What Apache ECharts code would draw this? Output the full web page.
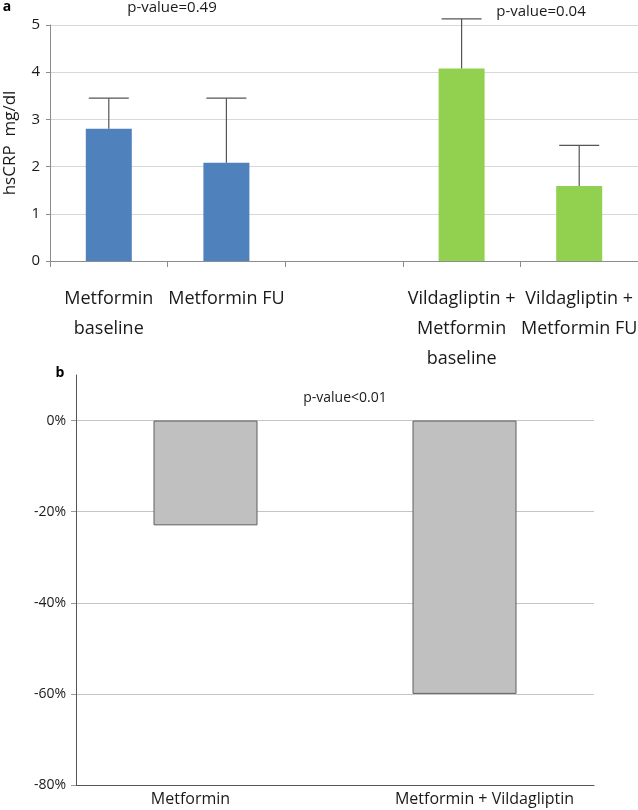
<!DOCTYPE html>
<html>
<head>
<meta charset="utf-8">
<script src="https://cdn.jsdelivr.net/npm/echarts@6/dist/echarts.min.js"></script>
<style>
html,body{margin:0;padding:0;background:#fff;}
#chart{width:638px;height:810px;}
</style>
</head>
<body>
<div id="chart"></div>
<script>
// Panel a
const catsA = ['Metformin\nbaseline', 'Metformin FU', '', 'Vildagliptin +\nMetformin\nbaseline', 'Vildagliptin +\nMetformin FU'];
const meansA = [2.8, 2.08, null, 4.08, 1.59];
const upperA = [3.45, 3.45, null, 5.13, 2.45];
const colorsA = ['#4f81bd', '#4f81bd', null, '#92d050', '#92d050'];
const ticksA = [0, 1, 2, 3, 4, 5];
// Panel b
const catsB = ['Metformin', 'Metformin + Vildagliptin'];
const valuesB = [-23, -60];
const ticksB = ['-80%', '-60%', '-40%', '-20%', '0%'];

const FONT = 'Open Sans';

const barDataA = meansA.map((v, i) => v == null ? null : {value: v, itemStyle: {color: colorsA[i]}});
const errDataA = meansA.map((v, i) => v == null ? null : [i, v, upperA[i]]).filter(d => d);

const chart = echarts.init(document.getElementById('chart'), null, {renderer: 'canvas'});
chart.setOption({
  animation: false,
  backgroundColor: '#fff',
  textStyle: {fontFamily: FONT},
  grid: [
    {left: 50, right: 0, top: 25, bottom: 549, containLabel: false, outerBoundsMode: 'none'},
    {left: 76, right: 44, top: 375, bottom: 25, containLabel: false, outerBoundsMode: 'none'}
  ],
  xAxis: [
    {
      type: 'category', gridIndex: 0, data: catsA,
      axisLine: {lineStyle: {color: '#8c8c8c', width: 1}},
      axisTick: {show: true, length: 6, lineStyle: {color: '#8c8c8c'}},
      axisLabel: {color: '#1a1a1a', fontSize: 18, fontFamily: FONT, lineHeight: 30, margin: 23, interval: 0}
    },
    {
      type: 'category', gridIndex: 1,
      data: [
        {value: catsB[0], textStyle: {padding: [0, 30, 0, 0]}},
        {value: catsB[1], textStyle: {padding: [0, 0, 0, 40]}}
      ],
      axisLine: {onZero: false, lineStyle: {color: '#555', width: 1}},
      axisTick: {show: false},
      axisLabel: {color: '#1a1a1a', fontSize: 16, fontFamily: FONT, margin: 6, interval: 0}
    }
  ],
  yAxis: [
    {
      type: 'value', gridIndex: 0, min: ticksA[0], max: ticksA[ticksA.length - 1], interval: 1,
      name: 'hsCRP  mg/dl', nameLocation: 'middle', nameGap: 31, nameRotate: 90,
      nameTextStyle: {fontSize: 17, color: '#1a1a1a', fontFamily: FONT},
      axisLine: {show: true, lineStyle: {color: '#8c8c8c'}},
      axisTick: {show: true, length: 4, lineStyle: {color: '#8c8c8c'}},
      axisLabel: {color: '#1a1a1a', fontSize: 15, margin: 10, fontFamily: FONT},
      splitLine: {show: true, lineStyle: {color: '#d8d8d8', width: 1}}
    },
    {
      type: 'value', gridIndex: 1, min: -80, max: 10, interval: 20,
      axisLine: {show: true, onZero: false, lineStyle: {color: '#555'}},
      axisTick: {show: true, length: 5, lineStyle: {color: '#999'}},
      axisLabel: {
        color: '#1a1a1a', fontSize: 14, margin: 10, fontFamily: FONT, showMaxLabel: false,
        formatter: v => v > 0 ? '' : ticksB[(v + 80) / 20]
      },
      splitLine: {show: true, showMaxLine: false, lineStyle: {color: '#c4c4c4', width: 1}}
    }
  ],
  series: [
    {
      type: 'bar', xAxisIndex: 0, yAxisIndex: 0, data: barDataA, barWidth: 46, z: 2
    },
    {
      type: 'custom', xAxisIndex: 0, yAxisIndex: 0, data: errDataA, z: 3,
      renderItem: function (params, api) {
        const x = api.value(0);
        const base = api.coord([x, api.value(1)]);
        const top = api.coord([x, api.value(2)]);
        const hw = 20;
        const style = {stroke: '#555', lineWidth: 1.2};
        return {
          type: 'group',
          children: [
            {type: 'line', shape: {x1: base[0], y1: base[1], x2: top[0], y2: top[1]}, style: style},
            {type: 'line', shape: {x1: top[0] - hw, y1: top[1], x2: top[0] + hw, y2: top[1]}, style: style}
          ]
        };
      }
    },
    {
      type: 'bar', xAxisIndex: 1, yAxisIndex: 1, data: valuesB, barWidth: 104,
      itemStyle: {color: '#c0c0c0', borderColor: '#5f5f5f', borderWidth: 1}
    }
  ],
  graphic: [
    {type: 'text', x: 7, y: 7, style: {text: 'a', font: 'bold 14px "Open Sans"', fill: '#000', align: 'center', verticalAlign: 'middle'}},
    {type: 'text', x: 172, y: 8, style: {text: 'p-value=0.49', font: '15px "Open Sans"', fill: '#1a1a1a', align: 'center', verticalAlign: 'middle'}},
    {type: 'text', x: 541, y: 12, style: {text: 'p-value=0.04', font: '15px "Open Sans"', fill: '#1a1a1a', align: 'center', verticalAlign: 'middle'}},
    {type: 'text', x: 60, y: 373, style: {text: 'b', font: 'bold 14px "Open Sans"', fill: '#000', align: 'center', verticalAlign: 'middle'}},
    {type: 'text', x: 345, y: 398, style: {text: 'p-value<0.01', font: '14px "Open Sans"', fill: '#1a1a1a', align: 'center', verticalAlign: 'middle'}}
  ]
});
</script>
</body>
</html>
